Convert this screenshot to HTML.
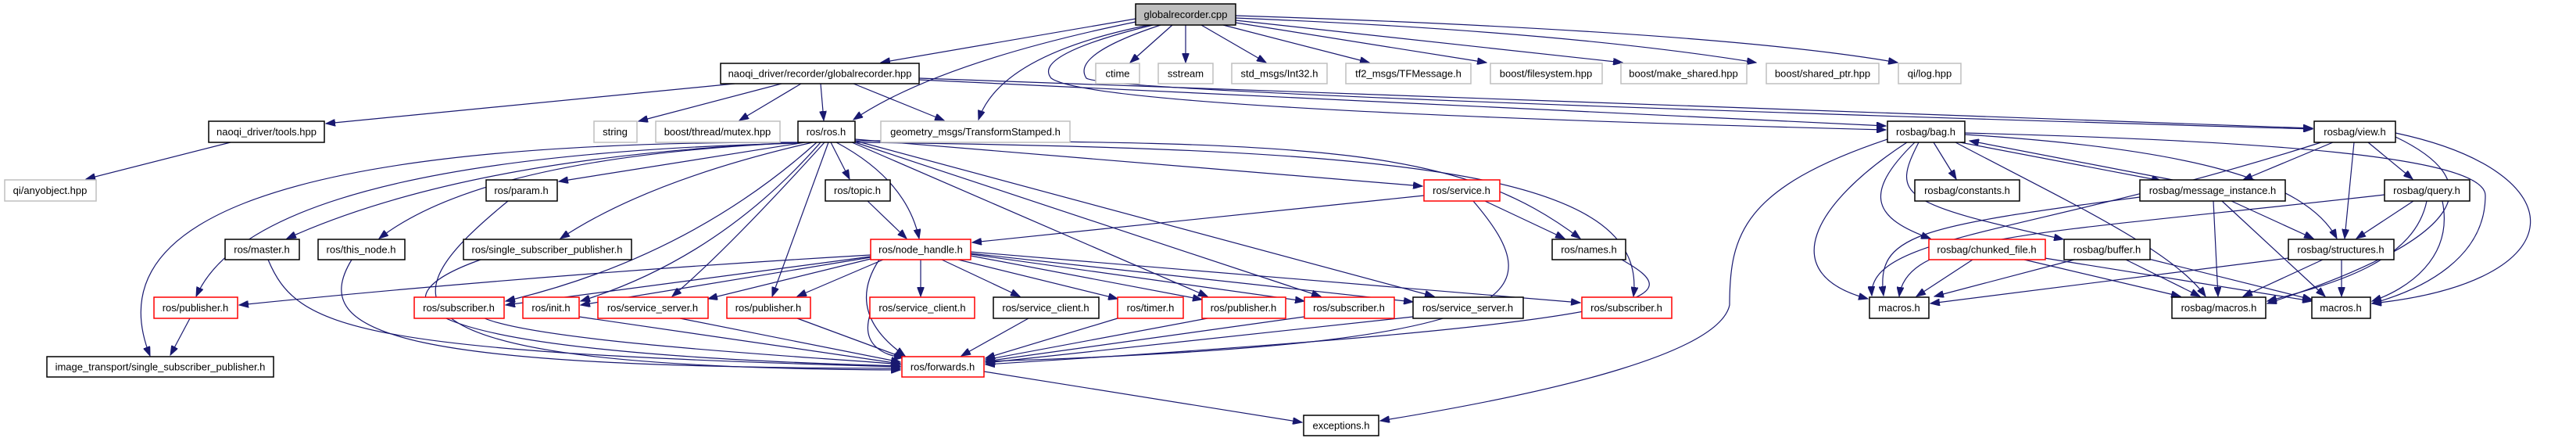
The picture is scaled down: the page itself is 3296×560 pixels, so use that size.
<!DOCTYPE html>
<html><head><meta charset="utf-8"><style>
html,body{margin:0;padding:0;background:#fff}
svg{display:block}
text{font-family:"Liberation Sans",sans-serif;font-size:13px;fill:#000;text-anchor:middle;dominant-baseline:central}
.b{fill:#fff;stroke:#000;stroke-width:1.5}
.g{fill:#fff;stroke:#bfbfbf;stroke-width:1.5}
.r{fill:#fff;stroke:#ff0000;stroke-width:1.5}
.e path{fill:none;stroke:#191970;stroke-width:1.2;marker-end:url(#a)}
</style></head><body>
<svg width="3296" height="560" viewBox="0 0 3296 560" xmlns="http://www.w3.org/2000/svg">
<defs><marker id="a" markerUnits="userSpaceOnUse" markerWidth="13" markerHeight="9" refX="12" refY="4.5" orient="auto"><path d="M0,0 L12,4.5 L0,9 z" fill="#191970" stroke="#191970"/></marker></defs>
<g class="e">
<!-- cpp -->
<path d="M1453,24 L1127,80"/>
<path d="M1500,32 L1446,80"/>
<path d="M1517,32 L1517,80"/>
<path d="M1537,32 L1620,80"/>
<path d="M1565,32 L1752,80"/>
<path d="M1581,29 L1902,80"/>
<path d="M1581,26 L2076,80"/>
<path d="M1581,23 Q2000,40 2247,80"/>
<path d="M1581,20 Q2200,40 2428,80"/>
<path d="M1453,28 Q1200,80 1092,153"/>
<path d="M1470,32 Q1280,70 1252,153"/>
<path d="M1475,32 Q1320,70 1345,100 Q1400,140 2413,166"/>
<path d="M1485,32 Q1370,70 1390,100 Q1420,120 2959,165"/>
<!-- hpp -->
<path d="M940,107 L417,158"/>
<path d="M1000,107 L817,155"/>
<path d="M1025,107 L946,154"/>
<path d="M1050,107 L1054,154"/>
<path d="M1092,107 L1208,154"/>
<path d="M1176,102 L2413,161"/>
<path d="M1176,100 Q2000,130 2959,164"/>
<path d="M295,182 L110,229"/>
<!-- ros.h -->
<path d="M1030,182 L715,232"/>
<path d="M1063,182 L1087,229"/>
<path d="M1025,182 Q600,200 367,305"/>
<path d="M1028,182 Q620,200 485,305"/>
<path d="M1040,182 Q830,230 717,305"/>
<path d="M1021,183 Q330,200 251,379"/>
<path d="M1021,182 C300,180 130,300 192,455"/>
<path d="M1094,178 L1820,238"/>
<path d="M1094,180 C1700,180 1870,190 2022,305"/>
<path d="M1094,182 C1800,190 2110,220 2090,379"/>
<path d="M1070,182 Q1160,230 1176,305"/>
<path d="M1045,182 Q880,330 647,385"/>
<path d="M1050,182 Q920,330 743,385"/>
<path d="M1055,182 Q930,320 860,379"/>
<path d="M1060,182 L988,379"/>
<path d="M1090,182 L1545,379"/>
<path d="M1094,182 L1690,379"/>
<path d="M1094,180 L1835,379"/>
<!-- node_handle -->
<path d="M1114,326 Q700,350 306,390"/>
<path d="M1114,328 L647,390"/>
<path d="M1114,329 L743,390"/>
<path d="M1114,331 L906,382"/>
<path d="M1130,332 L1020,379"/>
<path d="M1178,332 L1178,379"/>
<path d="M1205,332 L1305,379"/>
<path d="M1226,332 L1430,382"/>
<path d="M1242,327 L1538,383"/>
<path d="M1242,325 L1669,385"/>
<path d="M1242,324 L1808,386"/>
<path d="M1242,322 L2022,387"/>
<path d="M1125,332 Q1080,400 1158,455"/>
<path d="M1110,257 L1160,305"/>
<path d="M1822,250 L1244,310"/>
<path d="M1900,257 L2002,305"/>
<path d="M1885,257 C1990,380 1960,440 1261,462"/>
<path d="M2075,332 C2160,380 2160,410 1261,466"/>
<path d="M1259,475 L1666,540"/>
<path d="M2415,178 C2230,240 2213,300 2213,390 C2200,450 2000,500 1766,538"/>
<!-- to forwards -->
<path d="M650,257 C500,380 450,470 1152,473"/>
<path d="M343,332 C380,420 450,450 1152,469"/>
<path d="M450,332 C390,430 520,470 1152,471"/>
<path d="M615,332 C480,380 480,450 1152,468"/>
<path d="M243,407 L218,454"/>
<path d="M620,407 C700,440 1100,460 1152,466"/>
<path d="M741,405 L1152,465"/>
<path d="M870,407 L1152,463"/>
<path d="M1020,407 L1158,458"/>
<path d="M1114,400 C1100,440 1130,455 1156,457"/>
<path d="M1316,407 L1230,455"/>
<path d="M1430,407 L1261,458"/>
<path d="M1545,407 L1261,460"/>
<path d="M1669,405 L1261,462"/>
<path d="M1808,405 L1261,464"/>
<!-- rosbag -->
<path d="M2474,182 L2503,229"/>
<path d="M2508,182 L2765,231"/>
<path d="M2780,230 L2520,180"/>
<path d="M2450,182 C2380,250 2400,280 2470,305"/>
<path d="M2455,182 C2420,250 2430,260 2640,306"/>
<path d="M2440,182 C2320,260 2270,350 2390,382"/>
<path d="M2502,182 C2650,260 2780,320 2822,379"/>
<path d="M2514,172 C2800,190 2950,230 2990,305"/>
<path d="M2514,170 C2900,180 3180,200 3180,250 C3180,330 3100,370 3035,388"/>
<path d="M2985,182 L2870,230"/>
<path d="M3030,182 L3087,229"/>
<path d="M3012,182 L3000,305"/>
<path d="M2970,182 C2600,300 2390,300 2395,378"/>
<path d="M3065,175 C3180,230 3170,300 2901,388"/>
<path d="M3065,170 C3300,220 3300,360 3035,388"/>
<path d="M2738,252 C2450,290 2400,300 2410,378"/>
<path d="M2832,257 L2838,379"/>
<path d="M2855,257 L2960,305"/>
<path d="M2843,257 L2975,379"/>
<path d="M3088,257 L3015,305"/>
<path d="M3051,249 C2600,300 2440,300 2430,379"/>
<path d="M3105,257 C3090,330 3000,360 2901,385"/>
<path d="M3125,257 C3140,330 3080,370 3035,385"/>
<path d="M2524,332 L2452,379"/>
<path d="M2590,332 L2790,379"/>
<path d="M2616,330 L2958,385"/>
<path d="M2654,332 L2475,379"/>
<path d="M2720,332 L2815,379"/>
<path d="M2745,330 L2958,383"/>
<path d="M2928,330 L2470,388"/>
<path d="M2972,332 L2870,379"/>
<path d="M2996,332 L2996,379"/>
</g>
<g>
<rect x="1453" y="5" width="128" height="27" fill="#bfbfbf" stroke="#000" stroke-width="1.5"/><text x="1517" y="18.5">globalrecorder.cpp</text>
<rect class="b" x="922" y="81" width="254" height="26"/><text x="1049" y="94">naoqi_driver/recorder/globalrecorder.hpp</text>
<rect class="g" x="1402" y="81" width="56" height="26"/><text x="1430" y="94">ctime</text>
<rect class="g" x="1482" y="81" width="70" height="26"/><text x="1517" y="94">sstream</text>
<rect class="g" x="1576" y="81" width="122" height="26"/><text x="1637" y="94">std_msgs/Int32.h</text>
<rect class="g" x="1722" y="81" width="160" height="26"/><text x="1802" y="94">tf2_msgs/TFMessage.h</text>
<rect class="g" x="1907" y="81" width="143" height="26"/><text x="1978" y="94">boost/filesystem.hpp</text>
<rect class="g" x="2074" y="81" width="161" height="26"/><text x="2154" y="94">boost/make_shared.hpp</text>
<rect class="g" x="2260" y="81" width="144" height="26"/><text x="2332" y="94">boost/shared_ptr.hpp</text>
<rect class="g" x="2429" y="81" width="80" height="26"/><text x="2469" y="94">qi/log.hpp</text>
<rect class="b" x="267" y="155" width="148" height="27"/><text x="341" y="168.5">naoqi_driver/tools.hpp</text>
<rect class="g" x="760" y="155" width="55" height="27"/><text x="787" y="168.5">string</text>
<rect class="g" x="839" y="155" width="159" height="27"/><text x="918" y="168.5">boost/thread/mutex.hpp</text>
<rect class="b" x="1021" y="155" width="73" height="27"/><text x="1057" y="168.5">ros/ros.h</text>
<rect class="g" x="1127" y="155" width="242" height="27"/><text x="1248" y="168.5">geometry_msgs/TransformStamped.h</text>
<rect class="b" x="2415" y="155" width="99" height="27"/><text x="2464" y="168.5">rosbag/bag.h</text>
<rect class="b" x="2961" y="155" width="104" height="27"/><text x="3013" y="168.5">rosbag/view.h</text>
<rect class="g" x="6" y="230" width="117" height="27"/><text x="64" y="243.5">qi/anyobject.hpp</text>
<rect class="b" x="622" y="230" width="91" height="27"/><text x="667" y="243.5">ros/param.h</text>
<rect class="b" x="1056" y="230" width="83" height="27"/><text x="1097" y="243.5">ros/topic.h</text>
<rect class="r" x="1822" y="230" width="97" height="27"/><text x="1870" y="243.5">ros/service.h</text>
<rect class="b" x="2450" y="230" width="134" height="27"/><text x="2517" y="243.5">rosbag/constants.h</text>
<rect class="b" x="2738" y="230" width="186" height="27"/><text x="2831" y="243.5">rosbag/message_instance.h</text>
<rect class="b" x="3051" y="230" width="109" height="27"/><text x="3105" y="243.5">rosbag/query.h</text>
<rect class="b" x="288" y="306" width="95" height="26"/><text x="335" y="319">ros/master.h</text>
<rect class="b" x="407" y="306" width="111" height="26"/><text x="462" y="319">ros/this_node.h</text>
<rect class="b" x="593" y="306" width="215" height="26"/><text x="700" y="319">ros/single_subscriber_publisher.h</text>
<rect class="r" x="1114" y="306" width="128" height="26"/><text x="1178" y="319">ros/node_handle.h</text>
<rect class="b" x="1986" y="306" width="94" height="26"/><text x="2033" y="319">ros/names.h</text>
<rect class="r" x="2468" y="306" width="149" height="26"/><text x="2542" y="319">rosbag/chunked_file.h</text>
<rect class="b" x="2641" y="306" width="110" height="26"/><text x="2696" y="319">rosbag/buffer.h</text>
<rect class="b" x="2928" y="306" width="135" height="26"/><text x="2995" y="319">rosbag/structures.h</text>
<rect class="r" x="197" y="380" width="107" height="27"/><text x="250" y="393.5">ros/publisher.h</text>
<rect class="r" x="530" y="380" width="115" height="27"/><text x="587" y="393.5">ros/subscriber.h</text>
<rect class="r" x="669" y="380" width="72" height="27"/><text x="705" y="393.5">ros/init.h</text>
<rect class="r" x="765" y="380" width="141" height="27"/><text x="835" y="393.5">ros/service_server.h</text>
<rect class="r" x="930" y="380" width="107" height="27"/><text x="983" y="393.5">ros/publisher.h</text>
<rect class="r" x="1113" y="380" width="134" height="27"/><text x="1180" y="393.5">ros/service_client.h</text>
<rect class="b" x="1271" y="380" width="135" height="27"/><text x="1338" y="393.5">ros/service_client.h</text>
<rect class="r" x="1430" y="380" width="84" height="27"/><text x="1472" y="393.5">ros/timer.h</text>
<rect class="r" x="1538" y="380" width="107" height="27"/><text x="1591" y="393.5">ros/publisher.h</text>
<rect class="r" x="1669" y="380" width="115" height="27"/><text x="1726" y="393.5">ros/subscriber.h</text>
<rect class="b" x="1808" y="380" width="141" height="27"/><text x="1878" y="393.5">ros/service_server.h</text>
<rect class="r" x="2024" y="380" width="115" height="27"/><text x="2081" y="393.5">ros/subscriber.h</text>
<rect class="b" x="2392" y="380" width="76" height="27"/><text x="2430" y="393.5">macros.h</text>
<rect class="b" x="2779" y="380" width="120" height="27"/><text x="2839" y="393.5">rosbag/macros.h</text>
<rect class="b" x="2958" y="380" width="75" height="27"/><text x="2995" y="393.5">macros.h</text>
<rect class="b" x="60" y="456" width="290" height="26"/><text x="205" y="469">image_transport/single_subscriber_publisher.h</text>
<rect class="r" x="1154" y="456" width="105" height="26"/><text x="1206" y="469">ros/forwards.h</text>
<rect class="b" x="1668" y="531" width="96" height="26"/><text x="1716" y="544">exceptions.h</text>
</g>
</svg>
</body></html>
